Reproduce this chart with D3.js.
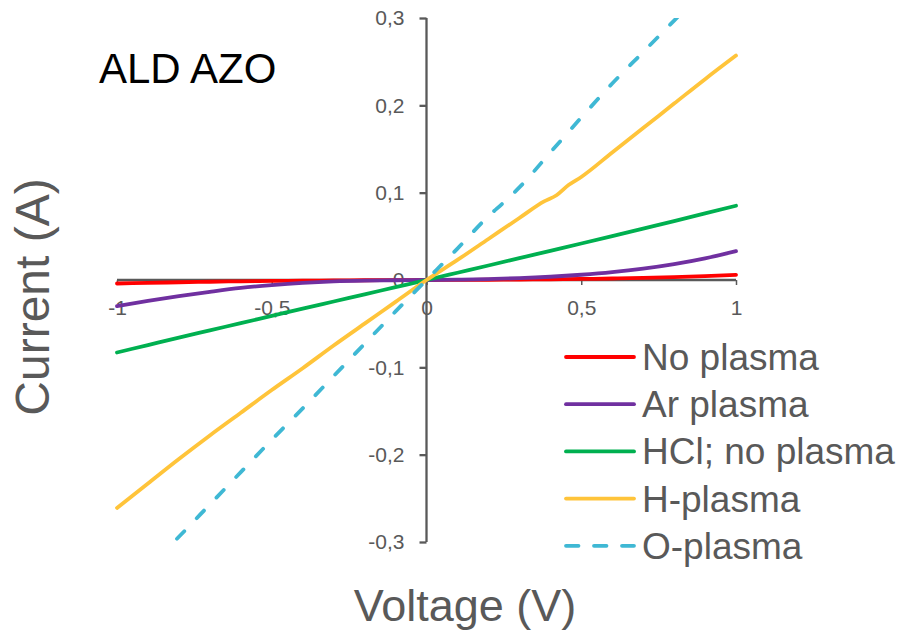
<!DOCTYPE html>
<html>
<head>
<meta charset="utf-8">
<script src="https://cdn.jsdelivr.net/npm/d3@7"></script>
<style>
  html, body { margin: 0; padding: 0; background: #fff; }
  svg { display: block; font-family: "Liberation Sans", Arial, sans-serif; }
</style>
</head>
<body>
<svg id="chart" width="900" height="635"></svg>
<script>
// Voltage sweep (V)
const voltage = [-1, -0.9, -0.8, -0.7, -0.6, -0.5, -0.4, -0.3, -0.2, -0.1, 0,
                 0.1, 0.2, 0.3, 0.4, 0.5, 0.6, 0.7, 0.8, 0.9, 1];

// Current (A) for each treatment
const noPlasma = [-0.004, -0.0033, -0.0026, -0.002, -0.0015, -0.0011, -0.0008, -0.0005, -0.0003, -0.0001, 0,
                  0.0001, 0.0003, 0.0005, 0.0008, 0.0012, 0.0017, 0.0024, 0.0032, 0.0044, 0.0058];
const arPlasma = [-0.030, -0.024, -0.0185, -0.0135, -0.009, -0.0058, -0.0033, -0.0016, -0.0007, -0.0003, 0,
                  0.0004, 0.0011, 0.0021, 0.0037, 0.006, 0.009, 0.013, 0.0182, 0.0248, 0.033];
const hclNoPlasma = [-0.083, -0.0745, -0.066, -0.0577, -0.0494, -0.0411, -0.0328, -0.0246, -0.0164, -0.0082, 0,
                     0.0083, 0.0166, 0.025, 0.0334, 0.0418, 0.0503, 0.0589, 0.0675, 0.0762, 0.085];
const hVoltage = [-1, -0.9, -0.8, -0.7, -0.6, -0.5, -0.4, -0.3, -0.2, -0.1, 0,
                  0.1, 0.2, 0.3, 0.38, 0.42, 0.46, 0.5, 0.6, 0.7, 0.8, 0.9, 1];
const hPlasma = [-0.261, -0.233, -0.205, -0.178, -0.152, -0.126, -0.101, -0.075, -0.050, -0.025, 0,
                 0.023, 0.047, 0.071, 0.090, 0.097, 0.109, 0.118, 0.146, 0.174, 0.202, 0.230, 0.257];
const oVoltage = [-1, -0.9, -0.8, -0.7, -0.6, -0.5, -0.4, -0.3, -0.2, -0.1, 0,
                  0.1, 0.2, 0.25, 0.3, 0.4, 0.5, 0.6, 0.7, 0.8, 0.9, 1];
const oPlasma = [-0.366, -0.330, -0.294, -0.257, -0.220, -0.183, -0.147, -0.110, -0.073, -0.036, 0,
                 0.036, 0.073, 0.089, 0.106, 0.146, 0.186, 0.225, 0.261, 0.297, 0.333, 0.370];

const seriesNames = ["No plasma", "Ar plasma", "HCl; no plasma", "H-plasma", "O-plasma"];
const seriesColors = ["#ff0000", "#7030a0", "#00b050", "#ffc43a", "#3fb8d4"];

const yTicks = [-0.3, -0.2, -0.1, 0, 0.1, 0.2, 0.3];
const xTicks = [-1, -0.5, 0, 0.5, 1];

const series = [
  { name: seriesNames[0], color: seriesColors[0], v: voltage, i: noPlasma, dashed: false },
  { name: seriesNames[1], color: seriesColors[1], v: voltage, i: arPlasma, dashed: false },
  { name: seriesNames[2], color: seriesColors[2], v: voltage, i: hclNoPlasma, dashed: false },
  { name: seriesNames[3], color: seriesColors[3], v: hVoltage, i: hPlasma, dashed: false },
  { name: seriesNames[4], color: seriesColors[4], v: oVoltage, i: oPlasma, dashed: true }
];

const svg = d3.select("#chart");
const axisGray = "#595959";
const dash = "10.5 18";

const x = d3.scaleLinear().domain([-1, 1]).range([117, 736]);
const y = d3.scaleLinear().domain([-0.3, 0.3]).range([542, 18]);

// decimal comma, plain hyphen for negatives
const locale = d3.formatLocale({ decimal: ",", thousands: ".", grouping: [3], currency: ["", ""], minus: "-" });
const fmt = d => d === 0 ? "0" : locale.format("")(+d.toFixed(1));

// Y axis crossing at V = 0
const gy = svg.append("g")
  .attr("transform", `translate(${x(0)},0)`)
  .call(d3.axisLeft(y).tickValues(yTicks).tickSize(7).tickPadding(15).tickFormat(fmt));
gy.select(".domain").attr("stroke", axisGray).attr("stroke-width", 2.3).attr("d", `M0,${y(0.3)}V${y(-0.3)}`);
gy.selectAll(".tick line").attr("stroke", axisGray).attr("stroke-width", 2.3);
gy.selectAll(".tick text").attr("fill", axisGray).attr("font-size", 21)
  .attr("font-family", "'Liberation Sans', Arial, sans-serif");

// X axis crossing at I = 0
const gx = svg.append("g")
  .attr("transform", `translate(0,${y(0)})`)
  .call(d3.axisBottom(x).tickValues(xTicks).tickSize(5).tickPadding(15).tickFormat(fmt));
gx.select(".domain").attr("stroke", axisGray).attr("stroke-width", 2.3).attr("d", `M${x(-1)},0H${x(1)}`);
gx.selectAll(".tick line").attr("stroke", axisGray).attr("stroke-width", 1.5);
gx.selectAll(".tick text").attr("fill", axisGray).attr("font-size", 21)
  .attr("font-family", "'Liberation Sans', Arial, sans-serif");

// plot area clip
svg.append("clipPath").attr("id", "plotClip")
  .append("rect")
  .attr("x", x(-1) - 3).attr("y", y(0.3))
  .attr("width", x(1) - x(-1) + 6).attr("height", y(-0.3) - y(0.3));

const line = d3.line().x(d => x(d[0])).y(d => y(d[1])).curve(d3.curveMonotoneX);

svg.append("g").attr("clip-path", "url(#plotClip)")
  .selectAll("path")
  .data(series)
  .join("path")
  .attr("d", s => line(s.v.map((v, k) => [v, s.i[k]])))
  .attr("fill", "none")
  .attr("stroke", s => s.color)
  .attr("stroke-width", 3.8)
  .attr("stroke-linecap", "round")
  .attr("stroke-linejoin", "round")
  .attr("stroke-dasharray", s => s.dashed ? dash : null);

// legend
const legend = svg.append("g");
const lg = legend.selectAll("g").data(series).join("g")
  .attr("transform", (s, k) => `translate(566,${357 + k * 47.2})`);
lg.append("line")
  .attr("x1", 0).attr("x2", 68).attr("y1", 0).attr("y2", 0)
  .attr("stroke", s => s.color).attr("stroke-width", 3.8)
  .attr("stroke-linecap", "round")
  .attr("stroke-dasharray", s => s.dashed ? "12.5 15.5" : null);
lg.append("text")
  .attr("x", 76).attr("y", 0).attr("dy", "0.35em")
  .attr("font-size", 37).attr("fill", axisGray)
  .text(s => s.name);

// titles
svg.append("text")
  .attr("x", 465).attr("y", 621)
  .attr("text-anchor", "middle").attr("font-size", 45).attr("fill", axisGray)
  .text("Voltage (V)");

svg.append("text")
  .attr("transform", "translate(49,297) rotate(-90)")
  .attr("text-anchor", "middle").attr("font-size", 48).attr("fill", axisGray)
  .text("Current (A)");

svg.append("text")
  .attr("x", 99).attr("y", 83)
  .attr("font-size", 42).attr("fill", "#000")
  .text("ALD AZO");
</script>
</body>
</html>
